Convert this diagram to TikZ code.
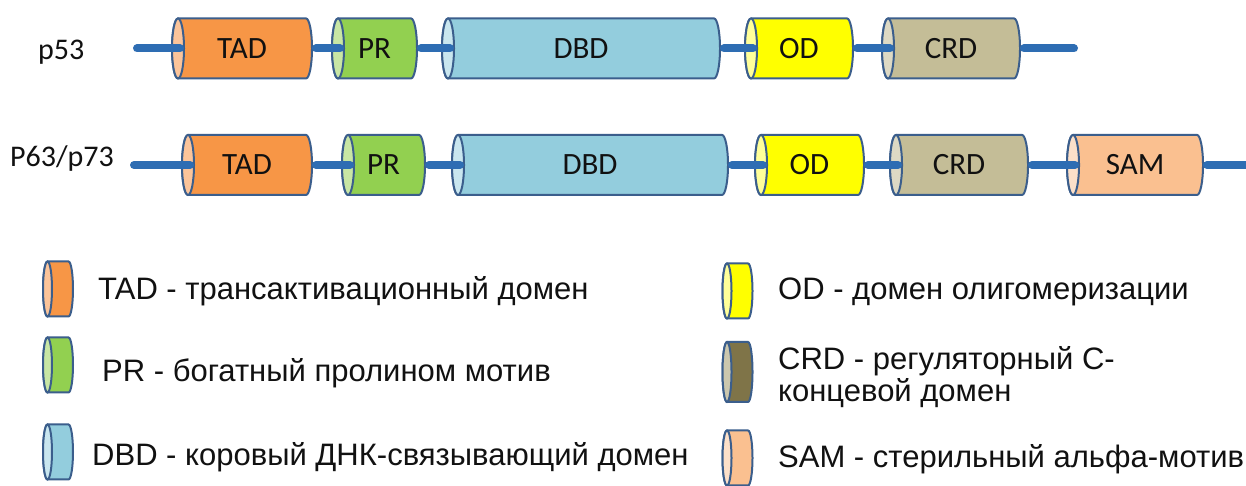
\documentclass[tikz,border=0pt]{standalone}
\usepackage{fontspec}
\setmainfont{Liberation Sans}
\newfontfamily\calib{Carlito}
\usetikzlibrary{calc}
\pgfdeclarelayer{background}
\pgfsetlayers{background,main}

\definecolor{outl}{HTML}{3B5E8C}
\definecolor{link}{HTML}{2E6DB3}
\definecolor{tadbody}{HTML}{F79646}\definecolor{tadface}{HTML}{FBC49A}
\definecolor{prbody}{HTML}{92D050}\definecolor{prface}{HTML}{C8E6A4}
\definecolor{dbdbody}{HTML}{93CDDD}\definecolor{dbdface}{HTML}{C9E6EF}
\definecolor{odbody}{HTML}{FFFF00}\definecolor{odface}{HTML}{FFFF99}
\definecolor{crdbody}{HTML}{C4BD97}\definecolor{crdface}{HTML}{DDD9C4}
\definecolor{sambody}{HTML}{FAC090}\definecolor{samface}{HTML}{FCE0C9}
\definecolor{crddark}{HTML}{7F7448}\definecolor{crddarkface}{HTML}{CBC7AE}
\definecolor{ink}{HTML}{111111}

% cylinder drawn behind a node: #1 node, #2 body, #3 face, #4 x radius, #5 y radius
\newcommand\drawcyl[5]{%
  \begin{pgfonlayer}{background}
  \draw[cylline, fill=#2] ([xshift=#4]#1.north west) -- ([xshift=-#4]#1.north east)
     arc[start angle=90, end angle=-90, x radius=#4, y radius=#5]
     -- ([xshift=#4]#1.south west)
     arc[start angle=-90, end angle=-270, x radius=#4, y radius=#5] -- cycle;
  \draw[cylline, fill=#3] ([xshift=#4]#1.west) ellipse[x radius=#4, y radius=#5];
  \end{pgfonlayer}}

\tikzset{
  cylline/.style={draw=outl, line width=2pt},
  dombox/.style={inner sep=0pt, outer sep=0pt, minimum height=60pt,
                 font=\calib\fontsize{31}{34}\selectfont, text=ink},
  iconbox/.style={inner sep=0pt, outer sep=0pt, minimum width=30pt, minimum height=55pt},
  linker/.style={draw=link, line width=8pt, line cap=round},
  rowname/.style={font=\calib\fontsize{30}{33}\selectfont, text=ink, anchor=base west, inner sep=0pt},
  legtext/.style={font=\fontsize{31}{32}\selectfont, text=ink, anchor=base west, inner sep=0pt,
                  align=left},
}

\begin{document}
\begin{tikzpicture}[x=1pt, y=1pt]
\useasboundingbox (0,0) rectangle (1246,486);
\begin{pgfonlayer}{background}
\fill[white] (0,0) rectangle (1246,486);
\end{pgfonlayer}

% ---------- p53 ----------
\node[rowname] (n53) at (38,426) {p53};
\coordinate (a0) at (137,437.5);
\node[dombox, minimum width=140pt] (a1) at (242,437.5) {TAD};
\node[dombox, minimum width=85pt]  (a2) at (374.5,437.5) {PR};
\node[dombox, minimum width=278pt] (a3) at (581,437.5) {DBD};
\node[dombox, minimum width=108pt] (a4) at (799,437.5) {OD};
\node[dombox, minimum width=138pt] (a5) at (951,437.5) {CRD};
\coordinate (a6) at (1074,437.5);
\drawcyl{a1}{tadbody}{tadface}{6pt}{30pt}
\drawcyl{a2}{prbody}{prface}{6pt}{30pt}
\drawcyl{a3}{dbdbody}{dbdface}{6pt}{30pt}
\drawcyl{a4}{odbody}{odface}{6pt}{30pt}
\drawcyl{a5}{crdbody}{crdface}{6pt}{30pt}
\draw[linker] (a0) -- ([xshift=8pt]a1.west);
\draw[linker] ([xshift=4pt]a1.east) -- ([xshift=8pt]a2.west);
\draw[linker] ([xshift=4pt]a2.east) -- ([xshift=8pt]a3.west);
\draw[linker] ([xshift=4pt]a3.east) -- ([xshift=8pt]a4.west);
\draw[linker] ([xshift=4pt]a4.east) -- ([xshift=8pt]a5.west);
\draw[linker] ([xshift=4pt]a5.east) -- (a6);

% ---------- P63/p73 ----------
\node[rowname] (n63) at (10,319) {P63/p73};
\coordinate (b0) at (134,321);
\node[dombox, minimum width=130pt] (b1) at (247,321) {TAD};
\node[dombox, minimum width=83pt]  (b2) at (383.5,321) {PR};
\node[dombox, minimum width=276pt] (b3) at (590,321) {DBD};
\node[dombox, minimum width=109pt] (b4) at (809.5,321) {OD};
\node[dombox, minimum width=138pt] (b5) at (959,321) {CRD};
\node[dombox, minimum width=136pt] (b6) at (1135,321) {SAM};
\coordinate (b7) at (1256,321);
\drawcyl{b1}{tadbody}{tadface}{6pt}{30pt}
\drawcyl{b2}{prbody}{prface}{6pt}{30pt}
\drawcyl{b3}{dbdbody}{dbdface}{6pt}{30pt}
\drawcyl{b4}{odbody}{odface}{6pt}{30pt}
\drawcyl{b5}{crdbody}{crdface}{6pt}{30pt}
\drawcyl{b6}{sambody}{samface}{6pt}{30pt}
\draw[linker] (b0) -- ([xshift=8pt]b1.west);
\draw[linker] ([xshift=4pt]b1.east) -- ([xshift=8pt]b2.west);
\draw[linker] ([xshift=4pt]b2.east) -- ([xshift=8pt]b3.west);
\draw[linker] ([xshift=4pt]b3.east) -- ([xshift=8pt]b4.west);
\draw[linker] ([xshift=4pt]b4.east) -- ([xshift=8pt]b5.west);
\draw[linker] ([xshift=4pt]b5.east) -- ([xshift=8pt]b6.west);
\draw[linker] ([xshift=4pt]b6.east) -- (b7);

% ---------- legend ----------
\node[iconbox] (lt) at (58,197) {};
\node[iconbox] (lp) at (58,121) {};
\node[iconbox] (ld) at (58,34) {};
\node[iconbox] (lo) at (737.5,195) {};
\node[iconbox, minimum height=60pt] (lc) at (737.5,114) {};
\node[iconbox] (ls) at (737.5,28) {};
\drawcyl{lt}{tadbody}{tadface}{4.5pt}{27.5pt}
\drawcyl{lp}{prbody}{prface}{4.5pt}{27.5pt}
\drawcyl{ld}{dbdbody}{dbdface}{4.5pt}{27.5pt}
\drawcyl{lo}{odbody}{odface}{4.5pt}{27.5pt}
\drawcyl{lc}{crddark}{crddarkface}{4.5pt}{30pt}
\drawcyl{ls}{sambody}{samface}{4.5pt}{27.5pt}

\node[legtext] (tt) at (98,186) {TAD - трансактивационный домен};
\node[legtext] (tp) at (102,104) {PR - богатный пролином мотив};
\node[legtext] (td) at (92,20) {DBD - коровый ДНК-связывающий домен};
\node[legtext] (to) at (778,186) {OD - домен олигомеризации};
\node[legtext] (tc) at (778,84) {CRD - регуляторный С-\\концевой домен};
\node[legtext] (ts) at (778,18) {SAM - стерильный альфа-мотив};
\end{tikzpicture}
\end{document}
